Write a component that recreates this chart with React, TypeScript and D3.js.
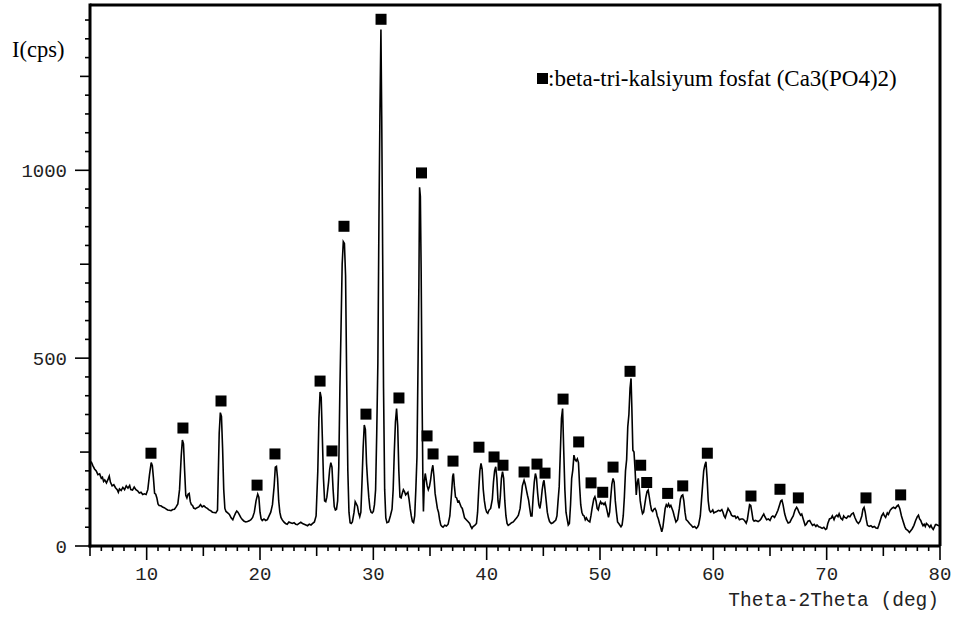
import React from "react";
import * as d3 from "d3";

// XRD pattern: [2theta (deg), intensity (cps)]
const pattern: [number, number][] = [
  [5.1, 225], [5.25, 214], [5.4, 205], [5.55, 200], [5.7, 190], [5.85, 192], [6.0, 180], [6.1, 183],
  [6.2, 172], [6.3, 176], [6.45, 168], [6.6, 178], [6.7, 186], [6.8, 170], [6.95, 160], [7.1, 163],
  [7.25, 155], [7.4, 150], [7.5, 143], [7.6, 152], [7.75, 148], [7.9, 156], [8.05, 150], [8.2, 160],
  [8.35, 154], [8.5, 161], [8.6, 150], [8.75, 149], [8.9, 157], [9.05, 150], [9.2, 147], [9.35, 141],
  [9.5, 143], [9.65, 137], [9.8, 139], [9.95, 137], [10.1, 150], [10.25, 190], [10.4, 222], [10.5, 214],
  [10.6, 180], [10.7, 140], [10.8, 138], [10.9, 128], [11.0, 112], [11.1, 108], [11.25, 107], [11.4, 104],
  [11.55, 102], [11.7, 99], [11.85, 96], [12.0, 95], [12.15, 94], [12.3, 97], [12.45, 98], [12.6, 104],
  [12.75, 112], [12.9, 150], [13.05, 240], [13.15, 282], [13.25, 272], [13.35, 200], [13.45, 135], [13.55, 128],
  [13.65, 138], [13.75, 140], [13.85, 118], [13.95, 110], [14.05, 108], [14.15, 101], [14.3, 99], [14.45, 102],
  [14.6, 104], [14.75, 110], [14.9, 104], [15.05, 107], [15.2, 103], [15.35, 100], [15.5, 96], [15.65, 94],
  [15.8, 90], [15.95, 89], [16.1, 88], [16.25, 95], [16.4, 300], [16.5, 355], [16.6, 345], [16.7, 260],
  [16.8, 150], [16.9, 100], [17.0, 92], [17.15, 88], [17.3, 84], [17.45, 75], [17.6, 70], [17.7, 78],
  [17.85, 88], [17.95, 93], [18.05, 90], [18.15, 85], [18.3, 76], [18.45, 70], [18.6, 66], [18.75, 64],
  [18.9, 65], [19.05, 67], [19.2, 70], [19.35, 76], [19.5, 90], [19.65, 120], [19.8, 138], [19.9, 130],
  [20.0, 90], [20.1, 72], [20.2, 68], [20.35, 72], [20.5, 68], [20.65, 70], [20.8, 80], [20.95, 90],
  [21.1, 110], [21.25, 160], [21.35, 210], [21.45, 212], [21.55, 180], [21.65, 120], [21.75, 90], [21.85, 76],
  [21.95, 70], [22.1, 64], [22.25, 60], [22.4, 58], [22.55, 64], [22.7, 62], [22.85, 60], [23.0, 62],
  [23.15, 58], [23.3, 57], [23.45, 60], [23.6, 63], [23.75, 60], [23.9, 58], [24.05, 56], [24.2, 54],
  [24.35, 58], [24.5, 56], [24.65, 60], [24.8, 64], [24.95, 80], [25.1, 200], [25.2, 340], [25.3, 410],
  [25.4, 395], [25.5, 290], [25.6, 180], [25.7, 120], [25.8, 118], [25.9, 130], [26.05, 170], [26.15, 205],
  [26.25, 222], [26.35, 210], [26.45, 150], [26.55, 105], [26.65, 96], [26.75, 98], [26.85, 120], [26.95, 210],
  [27.05, 420], [27.15, 580], [27.25, 750], [27.35, 810], [27.45, 805], [27.55, 720], [27.65, 440], [27.75, 200],
  [27.85, 90], [27.95, 62], [28.05, 60], [28.15, 64], [28.3, 90], [28.4, 118], [28.5, 112], [28.6, 106],
  [28.7, 88], [28.8, 78], [28.9, 90], [29.0, 170], [29.1, 260], [29.2, 322], [29.3, 310], [29.4, 220],
  [29.5, 170], [29.6, 130], [29.7, 100], [29.8, 90], [29.9, 88], [30.0, 92], [30.1, 110], [30.2, 150],
  [30.3, 300], [30.4, 487], [30.5, 886], [30.58, 1144], [30.67, 1375], [30.74, 1144], [30.8, 886], [30.9, 420],
  [31.0, 150], [31.1, 75], [31.2, 62], [31.35, 64], [31.5, 80], [31.65, 98], [31.75, 150], [31.85, 250],
  [31.95, 330], [32.05, 366], [32.15, 320], [32.25, 200], [32.35, 130], [32.45, 128], [32.55, 140], [32.65, 150],
  [32.75, 145], [32.85, 136], [32.95, 140], [33.05, 143], [33.15, 125], [33.25, 100], [33.35, 80], [33.45, 65],
  [33.55, 62], [33.65, 80], [33.75, 150], [33.85, 237], [33.95, 500], [34.02, 699], [34.08, 955], [34.15, 930],
  [34.22, 730], [34.3, 400], [34.38, 150], [34.42, 92], [34.5, 170], [34.58, 193], [34.65, 180], [34.75, 160],
  [34.85, 150], [34.95, 158], [35.05, 175], [35.15, 200], [35.25, 215], [35.35, 185], [35.45, 140], [35.55, 120],
  [35.65, 100], [35.75, 90], [35.85, 70], [35.95, 56], [36.05, 52], [36.15, 50], [36.3, 55], [36.45, 53],
  [36.6, 58], [36.75, 80], [36.9, 140], [37.0, 185], [37.07, 193], [37.15, 160], [37.25, 130], [37.35, 128],
  [37.45, 118], [37.55, 120], [37.65, 112], [37.75, 104], [37.85, 100], [37.95, 88], [38.05, 75], [38.2, 70],
  [38.35, 65], [38.5, 60], [38.6, 52], [38.7, 47], [38.8, 52], [38.95, 55], [39.1, 60], [39.2, 90],
  [39.3, 150], [39.4, 200], [39.5, 220], [39.6, 205], [39.7, 150], [39.8, 120], [39.9, 100], [40.0, 90],
  [40.1, 87], [40.2, 95], [40.35, 100], [40.5, 125], [40.6, 170], [40.7, 200], [40.8, 211], [40.9, 180],
  [41.0, 120], [41.1, 100], [41.2, 130], [41.3, 180], [41.4, 198], [41.5, 180], [41.6, 120], [41.7, 80],
  [41.8, 60], [41.9, 55], [42.05, 58], [42.2, 62], [42.35, 64], [42.5, 70], [42.65, 75], [42.8, 82],
  [42.95, 100], [43.05, 130], [43.15, 160], [43.3, 175], [43.4, 165], [43.5, 150], [43.6, 135], [43.7, 122],
  [43.8, 100], [43.9, 80], [44.0, 80], [44.1, 130], [44.2, 170], [44.3, 193], [44.4, 180], [44.5, 140],
  [44.6, 110], [44.7, 100], [44.8, 120], [44.9, 150], [45.0, 170], [45.06, 175], [45.15, 150], [45.25, 120],
  [45.35, 90], [45.45, 75], [45.55, 65], [45.7, 60], [45.85, 62], [46.0, 66], [46.1, 69], [46.2, 80],
  [46.3, 120], [46.4, 158], [46.5, 250], [46.6, 340], [46.7, 366], [46.8, 254], [46.9, 150], [47.0, 90],
  [47.1, 72], [47.2, 56], [47.3, 60], [47.4, 110], [47.5, 180], [47.6, 202], [47.7, 242], [47.8, 230],
  [47.9, 226], [48.0, 232], [48.1, 222], [48.2, 160], [48.3, 110], [48.4, 90], [48.5, 82], [48.6, 80],
  [48.7, 70], [48.8, 75], [48.9, 69], [49.0, 66], [49.1, 64], [49.2, 80], [49.3, 100], [49.45, 125],
  [49.55, 131], [49.65, 120], [49.75, 100], [49.85, 96], [49.95, 110], [50.05, 118], [50.15, 112], [50.25, 114],
  [50.35, 110], [50.45, 115], [50.55, 104], [50.65, 90], [50.75, 76], [50.85, 90], [50.95, 130], [51.05, 165],
  [51.15, 180], [51.25, 170], [51.35, 120], [51.45, 90], [51.55, 64], [51.7, 58], [51.85, 51], [51.95, 56],
  [52.05, 80], [52.15, 130], [52.25, 200], [52.35, 230], [52.45, 317], [52.55, 350], [52.65, 420], [52.74, 446],
  [52.8, 380], [52.9, 255], [53.0, 250], [53.1, 200], [53.2, 136], [53.3, 170], [53.38, 180], [53.45, 160],
  [53.55, 120], [53.65, 100], [53.75, 86], [53.85, 90], [53.95, 110], [54.05, 130], [54.15, 145], [54.25, 149],
  [54.35, 130], [54.45, 110], [54.55, 95], [54.65, 92], [54.75, 98], [54.85, 100], [54.95, 94], [55.05, 80],
  [55.15, 72], [55.25, 60], [55.35, 50], [55.45, 38], [55.55, 50], [55.65, 75], [55.75, 100], [55.85, 110],
  [55.95, 105], [56.05, 112], [56.15, 104], [56.25, 108], [56.35, 100], [56.45, 92], [56.55, 80], [56.7, 64],
  [56.85, 70], [57.0, 100], [57.1, 125], [57.2, 134], [57.3, 136], [57.4, 120], [57.5, 90], [57.6, 70],
  [57.75, 66], [57.9, 60], [58.05, 55], [58.2, 50], [58.35, 52], [58.5, 47], [58.6, 50], [58.7, 56],
  [58.85, 80], [58.95, 120], [59.05, 160], [59.15, 200], [59.25, 215], [59.35, 224], [59.45, 180], [59.55, 120],
  [59.65, 96], [59.75, 90], [59.85, 92], [59.95, 96], [60.05, 88], [60.15, 90], [60.3, 92], [60.45, 95],
  [60.6, 93], [60.75, 97], [60.85, 90], [60.95, 80], [61.05, 75], [61.15, 85], [61.3, 100], [61.4, 95],
  [61.5, 90], [61.6, 82], [61.75, 79], [61.9, 80], [62.0, 74], [62.15, 78], [62.3, 70], [62.45, 72],
  [62.6, 72], [62.75, 68], [62.9, 61], [63.0, 70], [63.1, 90], [63.2, 110], [63.3, 108], [63.4, 90],
  [63.5, 70], [63.6, 66], [63.7, 68], [63.8, 67], [63.95, 65], [64.1, 68], [64.2, 72], [64.35, 80],
  [64.45, 85], [64.55, 78], [64.7, 70], [64.85, 72], [65.0, 68], [65.15, 78], [65.25, 80], [65.4, 76],
  [65.55, 85], [65.7, 95], [65.85, 110], [65.95, 120], [66.05, 122], [66.15, 110], [66.3, 85], [66.45, 70],
  [66.6, 61], [66.75, 63], [66.9, 72], [67.05, 80], [67.2, 95], [67.35, 103], [67.45, 98], [67.55, 90],
  [67.7, 82], [67.8, 85], [67.95, 70], [68.1, 55], [68.2, 58], [68.35, 66], [68.5, 68], [68.6, 62],
  [68.75, 55], [68.9, 58], [69.05, 52], [69.15, 56], [69.3, 51], [69.45, 50], [69.6, 47], [69.75, 50],
  [69.9, 44], [70.0, 46], [70.1, 60], [70.25, 72], [70.4, 74], [70.5, 80], [70.65, 70], [70.75, 78],
  [70.9, 82], [71.0, 78], [71.1, 86], [71.25, 74], [71.4, 70], [71.5, 80], [71.6, 76], [71.75, 74],
  [71.9, 80], [72.05, 78], [72.2, 85], [72.35, 88], [72.5, 75], [72.65, 65], [72.8, 60], [72.95, 66],
  [73.1, 80], [73.2, 98], [73.3, 103], [73.4, 90], [73.5, 70], [73.6, 55], [73.75, 52], [73.9, 54],
  [74.05, 50], [74.2, 52], [74.35, 48], [74.5, 47], [74.6, 55], [74.75, 70], [74.85, 80], [75.0, 87],
  [75.1, 80], [75.2, 76], [75.35, 88], [75.45, 84], [75.6, 95], [75.75, 100], [75.9, 103], [76.05, 100],
  [76.2, 106], [76.32, 109], [76.45, 100], [76.6, 80], [76.75, 65], [76.9, 51], [77.0, 45], [77.15, 42],
  [77.3, 36], [77.4, 40], [77.55, 46], [77.7, 55], [77.85, 68], [78.0, 78], [78.1, 82], [78.2, 72],
  [78.3, 68], [78.4, 60], [78.5, 54], [78.6, 58], [78.7, 52], [78.8, 60], [78.95, 56], [79.1, 50],
  [79.2, 55], [79.3, 48], [79.4, 44], [79.5, 50], [79.6, 57], [79.7, 57], [79.8, 55], [79.9, 54], [80.0, 54],
];

// beta-TCP peak markers: [2theta, intensity]
const markers: [number, number][] = [
  [10.38, 247], [13.2, 314], [16.56, 386], [19.74, 162], [21.32, 245], [25.3, 439], [26.35, 253],
  [27.41, 851], [29.35, 351], [30.68, 1402], [32.26, 394], [34.25, 993], [34.74, 293], [35.27, 245],
  [37.03, 226], [39.32, 263], [40.65, 237], [41.44, 215], [43.3, 197], [44.44, 218], [45.15, 194],
  [46.74, 391], [48.12, 277], [49.21, 168], [50.24, 143], [51.15, 210], [52.65, 465], [53.59, 215],
  [54.12, 169], [55.97, 140], [57.3, 160], [59.47, 247], [63.32, 133], [65.88, 151], [67.5, 128],
  [73.47, 128], [76.53, 136],
];

const xLabelTicks = [10, 20, 30, 40, 50, 60, 70, 80];
const yLabelTicks = [0, 500, 1000];
const legendText = ":beta-tri-kalsiyum fosfat (Ca3(PO4)2)";
const yTitle = "I(cps)";
const xTitle = "Theta-2Theta (deg)";

export default function App() {
  const x = d3.scaleLinear().domain([5, 80]).range([90, 940]);
  const y = d3.scaleLinear().domain([0, 1440]).range([546, 5]);
  const line = d3
    .line<[number, number]>()
    .x((d) => x(d[0]))
    .y((d) => y(d[1]));

  const xMinor = d3.range(5, 81, 1);
  const yMinor = d3.range(0, 1401, 50);
  const mono = "'Liberation Mono', 'Courier New', monospace";
  const serif = "'Liberation Serif', 'Times New Roman', serif";

  return (
    <svg
      width={956}
      height={619}
      style={{ position: "absolute", left: 0, top: 0, background: "#fff", display: "block" }}
    >
      <rect x={0} y={0} width={956} height={619} fill="#fff" />
      {/* frame */}
      <line x1={x(5)} x2={x(80)} y1={y(1440)} y2={y(1440)} stroke="#000" strokeWidth={3} />
      <line x1={x(80)} x2={x(80)} y1={y(1440) - 1.5} y2={y(0)} stroke="#000" strokeWidth={3} />
      {/* y ticks */}
      {yMinor.map((v) => {
        const len = v % 500 === 0 ? 15 : v % 250 === 0 ? 10 : 5;
        return (
          <line key={"yt" + v} x1={x(5) - len} x2={x(5)} y1={y(v)} y2={y(v)} stroke="#000" strokeWidth={1.6} />
        );
      })}
      {/* x ticks */}
      {xMinor.map((v) => {
        const len = v % 10 === 0 ? 14 : v % 5 === 0 ? 10 : 5;
        return (
          <line key={"xt" + v} x1={x(v)} x2={x(v)} y1={y(0)} y2={y(0) + len} stroke="#000" strokeWidth={1.6} />
        );
      })}
      {/* axes */}
      <line x1={x(5)} x2={x(5)} y1={y(1440) - 1.5} y2={y(0) + 1.5} stroke="#000" strokeWidth={3} />
      <line x1={x(5) - 1.5} x2={x(80)} y1={y(0)} y2={y(0)} stroke="#000" strokeWidth={3} />
      {/* tick labels */}
      {xLabelTicks.map((v) => (
        <text key={"xl" + v} x={x(v)} y={580} textAnchor="middle" fontFamily={mono} fontSize={19} fill="#222">
          {v}
        </text>
      ))}
      {yLabelTicks.map((v) => (
        <text
          key={"yl" + v}
          x={67}
          y={y(v) + 6.5}
          textAnchor="end"
          fontFamily={mono}
          fontSize={19}
          fill="#222"
        >
          {v}
        </text>
      ))}
      <text x={12} y={57} fontFamily={serif} fontSize={22.5} fill="#000">
        {yTitle}
      </text>
      <text x={939} y={606} textAnchor="end" fontFamily={mono} fontSize={19.5} fill="#222">
        {xTitle}
      </text>
      {/* pattern */}
      <path d={line(pattern) || ""} fill="none" stroke="#000" strokeWidth={1.6} strokeLinejoin="miter" />
      {/* markers */}
      {markers.map((m, i) => (
        <rect key={"m" + i} x={x(m[0]) - 5.5} y={y(m[1]) - 5.5} width={11} height={11} fill="#000" />
      ))}
      {/* legend */}
      <rect x={537} y={73} width={11} height={11} fill="#000" />
      <text x={548} y={86} fontFamily={serif} fontSize={23} fill="#000">
        {legendText}
      </text>
    </svg>
  );
}
